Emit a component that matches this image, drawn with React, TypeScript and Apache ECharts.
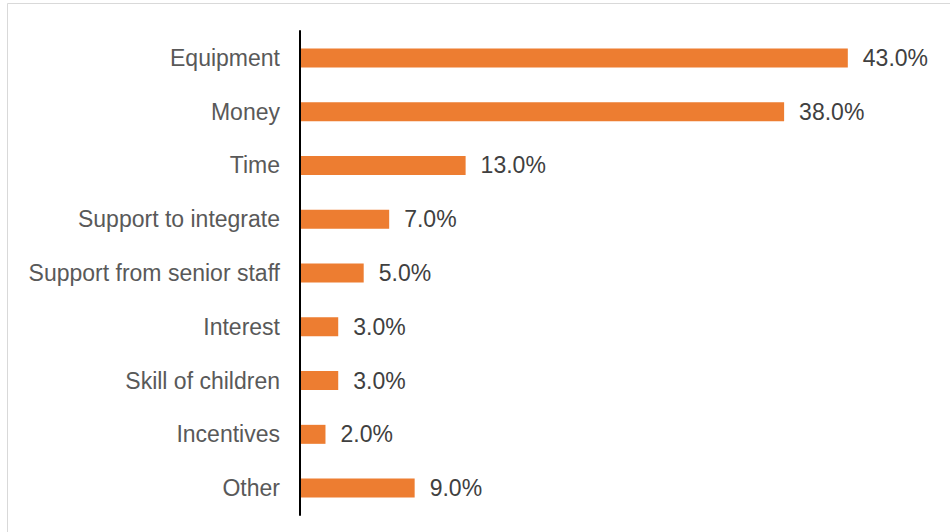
import React, { useEffect, useRef } from "react";
import * as echarts from "echarts";

const categories = [
  "Equipment",
  "Money",
  "Time",
  "Support to integrate",
  "Support from senior staff",
  "Interest",
  "Skill of children",
  "Incentives",
  "Other",
];
const values = [43, 38, 13, 7, 5, 3, 3, 2, 9];

const FONT = "'Liberation Sans', Arial, sans-serif";

export default function App() {
  const ref = useRef<HTMLDivElement>(null);
  useEffect(() => {
    document.body.style.margin = "0";
    const chart = echarts.init(ref.current!, null, { renderer: "svg" });
    chart.setOption({
      animation: false,
      backgroundColor: "#ffffff",
      textStyle: { fontFamily: FONT },
      graphic: [
        {
          type: "rect",
          shape: { x: 7.5, y: 3.5, width: 960, height: 540 },
          style: { fill: "none", stroke: "#d9d9d9", lineWidth: 1 },
          silent: true,
        },
      ],
      grid: { left: 300, top: 31, height: 484, right: 13 },
      xAxis: {
        type: "value",
        min: 0,
        max: 50,
        show: false,
      },
      yAxis: {
        type: "category",
        data: categories,
        inverse: true,
        axisLine: { show: true, lineStyle: { color: "#000000", width: 2 } },
        axisTick: { show: false },
        splitLine: { show: false },
        axisLabel: {
          color: "#595959",
          fontSize: 23,
          margin: 20,
          padding: [3, 0, 0, 0],
          fontFamily: FONT,
        },
        z: 5,
      },
      series: [
        {
          type: "bar",
          data: values,
          barWidth: 19,
          itemStyle: { color: "#ED7D31" },
          label: {
            show: true,
            position: "right",
            distance: 15,
            color: "#404040",
            fontSize: 23,
            padding: [3, 0, 0, 0],
            fontFamily: FONT,
            formatter: (p: any) => p.value.toFixed(1) + "%",
          },
        },
      ],
    });
    return () => chart.dispose();
  }, []);
  return <div ref={ref} style={{ width: 950, height: 532 }} />;
}
